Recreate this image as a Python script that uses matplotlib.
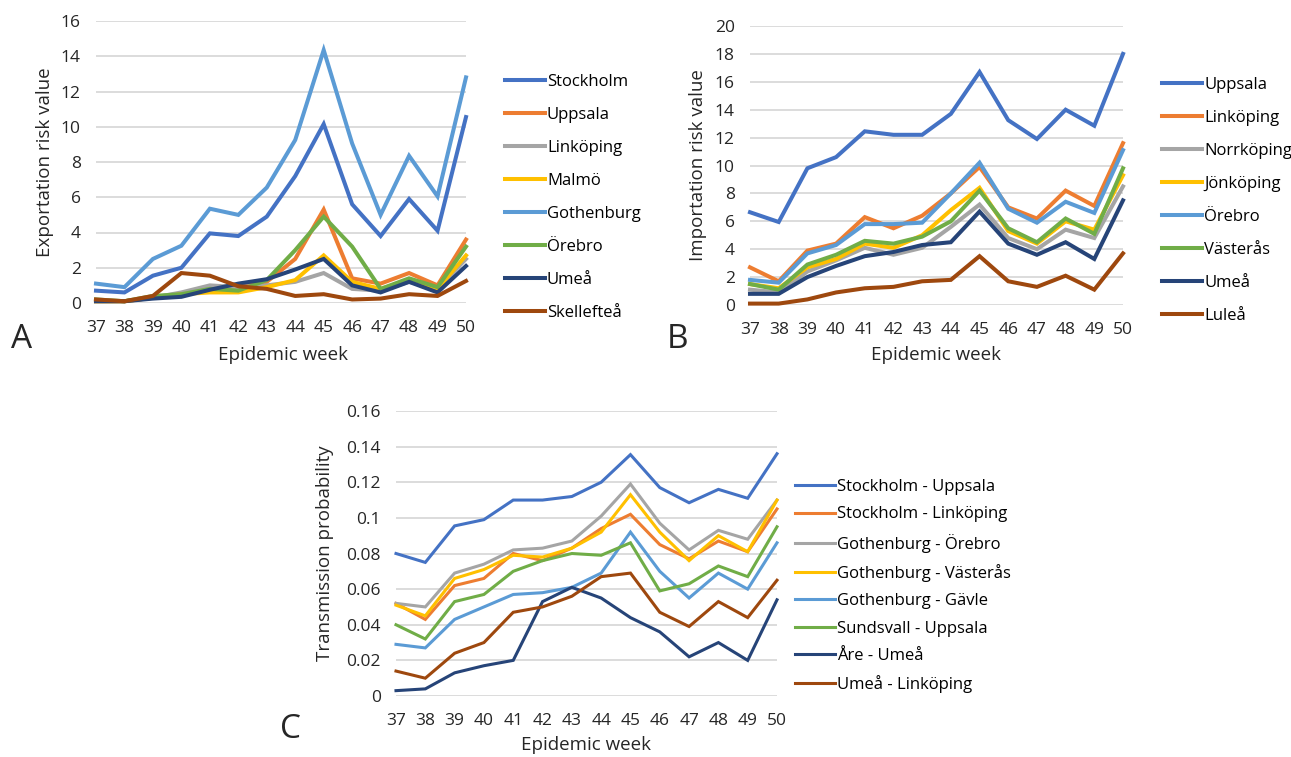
import numpy as np
import matplotlib.pyplot as plt

plt.rcParams['font.family'] = ['Open Sans', 'DejaVu Sans']

weeks = list(range(37, 51))

colors = ['#4472C4', '#ED7D31', '#A5A5A5', '#FFC000',
          '#5B9BD5', '#70AD47', '#264478', '#9E480E']

# Panel A - exportation risk
export_names = ['Stockholm', 'Uppsala', 'Linköping', 'Malmö',
                'Gothenburg', 'Örebro', 'Umeå', 'Skellefteå']
export_vals = [
    [0.7, 0.6, 1.55, 2.0, 3.95, 3.8, 4.9, 7.2, 10.15, 5.6, 3.8, 5.9, 4.1, 10.55],
    [0.1, 0.1, 0.3, 0.5, 0.8, 0.9, 1.2, 2.5, 5.3, 1.4, 1.1, 1.7, 1.0, 3.6],
    [0.1, 0.1, 0.3, 0.6, 1.0, 0.9, 1.0, 1.2, 1.7, 0.8, 0.7, 1.2, 0.8, 2.5],
    [0.1, 0.1, 0.3, 0.5, 0.6, 0.6, 0.9, 1.3, 2.7, 1.2, 0.8, 1.3, 0.8, 2.7],
    [1.1, 0.9, 2.5, 3.25, 5.35, 5.0, 6.55, 9.25, 14.35, 9.05, 5.0, 8.35, 6.05, 12.8],
    [0.2, 0.1, 0.4, 0.5, 0.8, 0.7, 1.3, 3.0, 4.9, 3.2, 0.8, 1.4, 0.9, 3.2],
    [0.1, 0.1, 0.25, 0.35, 0.75, 1.1, 1.35, 1.9, 2.5, 1.0, 0.6, 1.2, 0.6, 2.1],
    [0.2, 0.1, 0.4, 1.7, 1.55, 0.95, 0.8, 0.4, 0.5, 0.2, 0.25, 0.5, 0.4, 1.25],
]

# Panel B - importation risk
import_names = ['Uppsala', 'Linköping', 'Norrköping', 'Jönköping',
                'Örebro', 'Västerås', 'Umeå', 'Luleå']
import_vals = [
    [6.65, 5.95, 9.8, 10.6, 12.45, 12.2, 12.2, 13.7, 16.7, 13.25, 11.9, 14.0, 12.85, 18.0],
    [2.7, 1.7, 3.9, 4.4, 6.3, 5.5, 6.4, 8.0, 9.9, 7.0, 6.2, 8.2, 7.1, 11.6],
    [1.1, 0.9, 2.4, 3.2, 4.1, 3.6, 4.1, 5.6, 7.2, 4.8, 4.0, 5.4, 4.8, 8.5],
    [1.5, 1.2, 2.7, 3.3, 4.4, 4.1, 5.0, 6.8, 8.4, 5.3, 4.4, 6.0, 5.4, 9.3],
    [1.8, 1.6, 3.7, 4.3, 5.8, 5.8, 5.9, 8.0, 10.2, 6.9, 5.9, 7.4, 6.6, 11.1],
    [1.5, 1.1, 2.9, 3.6, 4.6, 4.4, 4.9, 6.0, 8.2, 5.5, 4.5, 6.2, 5.1, 9.8],
    [0.8, 0.8, 2.0, 2.8, 3.5, 3.8, 4.3, 4.5, 6.7, 4.4, 3.6, 4.5, 3.3, 7.5],
    [0.1, 0.1, 0.4, 0.9, 1.2, 1.3, 1.7, 1.8, 3.5, 1.7, 1.3, 2.1, 1.1, 3.7],
]

# Panel C - transmission probability
pair_names = ['Stockholm - Uppsala', 'Stockholm - Linköping', 'Gothenburg - Örebro',
              'Gothenburg - Västerås', 'Gothenburg - Gävle', 'Sundsvall - Uppsala',
              'Åre - Umeå', 'Umeå - Linköping']
pair_vals = [
    [0.080, 0.075, 0.0955, 0.099, 0.110, 0.110, 0.112, 0.120, 0.1355, 0.117, 0.1085, 0.116, 0.111, 0.136],
    [0.052, 0.043, 0.062, 0.066, 0.080, 0.076, 0.083, 0.094, 0.102, 0.085, 0.077, 0.087, 0.081, 0.105],
    [0.052, 0.050, 0.069, 0.074, 0.082, 0.083, 0.087, 0.101, 0.119, 0.097, 0.082, 0.093, 0.088, 0.110],
    [0.051, 0.045, 0.066, 0.071, 0.079, 0.078, 0.083, 0.092, 0.113, 0.092, 0.076, 0.090, 0.081, 0.110],
    [0.029, 0.027, 0.043, 0.050, 0.057, 0.058, 0.061, 0.069, 0.092, 0.070, 0.055, 0.069, 0.060, 0.086],
    [0.040, 0.032, 0.053, 0.057, 0.070, 0.076, 0.080, 0.079, 0.086, 0.059, 0.063, 0.073, 0.067, 0.095],
    [0.003, 0.004, 0.013, 0.017, 0.020, 0.053, 0.061, 0.055, 0.044, 0.036, 0.022, 0.030, 0.020, 0.054],
    [0.014, 0.010, 0.024, 0.030, 0.047, 0.050, 0.056, 0.067, 0.069, 0.047, 0.039, 0.053, 0.044, 0.065],
]

W, H = 1291, 757
fig = plt.figure(figsize=(W / 100, H / 100), dpi=100)
txt_col = '#262626'


def px_axes(x0, y0, x1, y1):
    # pixel box (top-left origin) -> figure axes
    return fig.add_axes([x0 / W, 1 - y1 / H, (x1 - x0) / W, (y1 - y0) / H])


def fig_text(x, y, s, **kw):
    fig.text(x / W, 1 - y / H, s, ha='center', va='center', color=txt_col, **kw)


def panel(ax, names, vals, ymax, ystep, lw, yfmt=None):
    for name, v, c in zip(names, vals, colors):
        ax.plot(weeks, v, color=c, lw=lw, label=name, clip_on=False,
                solid_joinstyle='miter', zorder=3)
    ax.set_xlim(37, 50)
    ax.set_ylim(0, ymax)
    ax.set_xticks(weeks)
    yt = np.arange(0, ymax + ystep / 2, ystep)
    ax.set_yticks(yt)
    if yfmt:
        ax.set_yticklabels([yfmt(t) for t in yt])
    ax.grid(axis='y', color='#D9D9D9', lw=1.3, zorder=0)
    for s in ax.spines.values():
        s.set_visible(False)
    ax.tick_params(length=0, labelsize=12.5, colors=txt_col)
    ax.tick_params(axis='y', pad=11)
    ax.tick_params(axis='x', pad=12)


def add_legend(ax, x, y, spacing):
    ax.legend(loc='upper left', bbox_to_anchor=(x / W, 1 - y / H),
              bbox_transform=fig.transFigure, frameon=False, fontsize=12,
              handlelength=2.4, handletextpad=0.12, labelspacing=spacing,
              borderaxespad=0, borderpad=0)


axA = px_axes(96, 21, 466, 303)
panel(axA, export_names, export_vals, 16, 2, 2.9)
add_legend(axA, 505, 74, 1.02)
fig_text(45, 162, 'Exportation risk value', fontsize=13.5, rotation=90)
fig_text(283, 355, 'Epidemic week', fontsize=13.5)

axB = px_axes(750, 26, 1123, 305)
panel(axB, import_names, import_vals, 20, 2, 2.9)
add_legend(axB, 1162, 77, 1.02)
fig_text(698, 165, 'Importation risk value', fontsize=13.5, rotation=90)
fig_text(936, 355, 'Epidemic week', fontsize=13.5)

axC = px_axes(396, 411, 777, 696)
panel(axC, pair_names, pair_vals, 0.16, 0.02, 2.2,
      yfmt=lambda t: '0' if t == 0 else ('%.2f' % t).rstrip('0'))
add_legend(axC, 795, 479, 0.68)
fig_text(325, 553, 'Transmission probability', fontsize=13.5, rotation=90)
fig_text(586, 745, 'Epidemic week', fontsize=13.5)

fig_text(22, 340, 'A', fontsize=24)
fig_text(678, 340, 'B', fontsize=24)
fig_text(290, 730, 'C', fontsize=24)

fig.savefig('out.png', dpi=100, facecolor='white')
